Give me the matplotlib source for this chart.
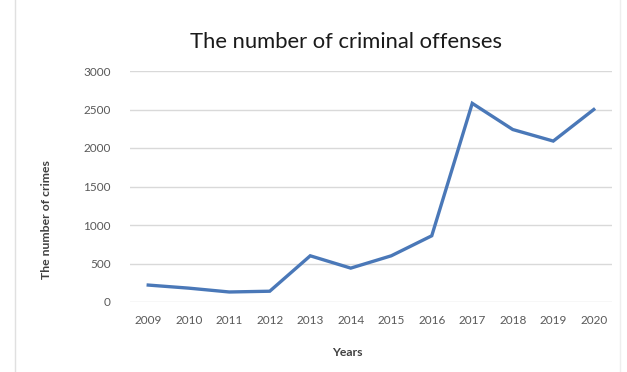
import matplotlib
matplotlib.use("Agg")
import matplotlib.pyplot as plt
from matplotlib.lines import Line2D

years = ["2009", "2010", "2011", "2012", "2013", "2014", "2015", "2016", "2017", "2018", "2019", "2020"]
crimes = [220, 180, 130, 140, 600, 440, 600, 860, 2580, 2240, 2090, 2500]
yticks = [0, 500, 1000, 1500, 2000, 2500, 3000]

plt.rcParams['font.family'] = ['Lato', 'DejaVu Sans']

fig = plt.figure(figsize=(6.27, 3.72), dpi=100)
ax = fig.add_axes([130/627, 1-302/372, (612-130)/627, (302-71)/372])

x = list(range(len(years)))
ax.plot(x, crimes, color="#4a78b8", linewidth=2.4, solid_joinstyle="miter")

ax.set_xlim(-0.45, len(years) - 0.55)
ax.set_ylim(0, 3000)
ax.set_yticks(yticks)
ax.set_yticklabels([str(v) for v in yticks])
ax.set_xticks(x)
ax.set_xticklabels(years)
ax.grid(axis="y", color="#d9d9d9", linewidth=1)
ax.set_axisbelow(True)
for s in ax.spines.values():
    s.set_visible(False)
ax.tick_params(axis="both", length=0, colors="#595959", labelsize=8.5)
ax.tick_params(axis="x", pad=9)
ax.tick_params(axis="y", pad=14)

fig.text(346/627, 1-42/372, "The number of criminal offenses", ha="center", va="center",
         fontsize=15.8, color="#1a1a1a")
fig.text(47/627, 1-220/372, "The number of crimes", ha="center", va="center", rotation=90,
         fontsize=8.8, color="#404040", fontweight="bold")
fig.text(347/627, 1-353/372, "Years", ha="center", va="center",
         fontsize=8.8, color="#404040", fontweight="bold")

fig.add_artist(Line2D([15/627, 15/627], [0, 1], transform=fig.transFigure, color="#e0e0e0", linewidth=1))
fig.add_artist(Line2D([620/627, 620/627], [0, 1], transform=fig.transFigure, color="#eeeeee", linewidth=1))

fig.savefig("out.png", dpi=100)
